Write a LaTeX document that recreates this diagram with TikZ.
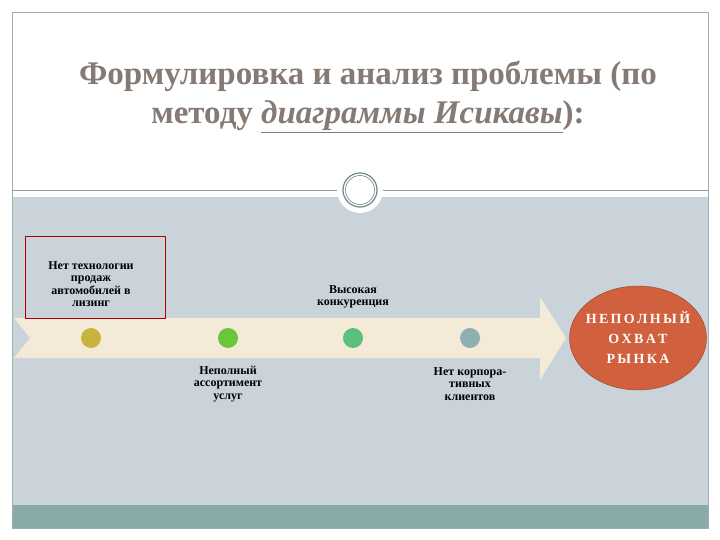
\documentclass[tikz,border=0pt]{standalone}
\usepackage{fontspec}
\setmainfont{Liberation Serif}
\usetikzlibrary{shapes.geometric,shapes.arrows}
\definecolor{band}{HTML}{C9D3D9}
\definecolor{teal}{HTML}{8AAAA8}
\definecolor{arrowc}{HTML}{F3EBD7}
\definecolor{titlec}{HTML}{857A74}
\definecolor{ellc}{HTML}{D0603E}
\definecolor{framec}{HTML}{9FB0AE}
\definecolor{c1}{HTML}{C8B43A}
\definecolor{c2}{HTML}{6CC53A}
\definecolor{c3}{HTML}{5BBF7E}
\definecolor{c4}{HTML}{8FAFB0}
\tikzset{lbl/.style={font=\bfseries\fontsize{12}{12.5}\selectfont, align=center, text=black},
dot/.style={circle, minimum size=20pt, inner sep=0pt}}
\begin{document}
\begin{tikzpicture}[x=1pt,y=-1pt]
\useasboundingbox (0,0) rectangle (720,540);
\fill[white] (0,0) rectangle (720,540);
\fill[band] (12,197) rectangle (708,505);
\fill[teal] (12,505) rectangle (708,528);
\draw[framec] (12,12) rectangle (708,528);
\draw[gray!80] (12,190) -- (708,190);
\node[font=\bfseries\fontsize{33}{39}\selectfont, text=titlec, align=center] (title) at (368,97) {Формулировка и анализ проблемы (по\\методу \underline{\itshape диаграммы Исикавы}):};
\node[circle, fill=white, minimum size=46pt] (orn) at (360,190) {};
\draw[teal!80!black, line width=1.2pt] (360,190) circle (17);
\draw[teal!80!black, line width=0.6pt] (360,190) circle (14.5);
\fill[arrowc] (14,318) -- (540,318) -- (540,297) -- (566,338) -- (540,380) -- (540,358) -- (14,358) -- (30,338) -- cycle;
\node[draw=red!70!black, minimum width=140pt, minimum height=82pt] (box) at (95,277) {};
\node[lbl] (t1) at (91,284) {Нет технологии\\продаж\\автомобилей в\\лизинг};
\node[lbl] (t3) at (353,297) {Высокая\\конкуренция};
\node[lbl] (t2) at (228,384) {Неполный\\ассортимент\\услуг};
\node[lbl] (t4) at (470,384) {Нет корпора-\\тивных\\клиентов};
\node[dot, fill=c1] (d1) at (91,338) {};
\node[dot, fill=c2] (d2) at (228,338) {};
\node[dot, fill=c3] (d3) at (353,338) {};
\node[dot, fill=c4] (d4) at (470,338) {};
\node[ellipse, fill=ellc, draw=ellc!70!black, minimum width=137pt, minimum height=104pt, inner sep=0pt, text=white, font=\bfseries\fontsize{14}{20}\selectfont, align=center] (eff) at (638,338) {};
\node[text=white, font=\bfseries\fontsize{14}{20}\selectfont, align=center] (efftext) at (eff.center) {Н\,Е\,П\,О\,Л\,Н\,Ы\,Й\\О\,Х\,В\,А\,Т\\Р\,Ы\,Н\,К\,А};
\end{tikzpicture}
\end{document}
